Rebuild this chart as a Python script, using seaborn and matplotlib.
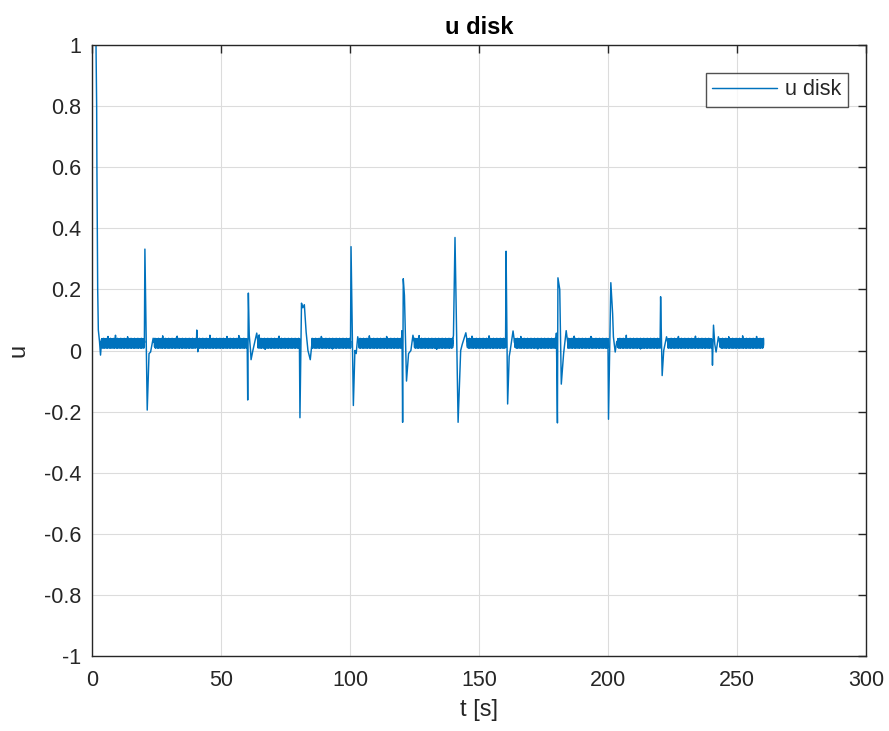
import numpy as np
import pandas as pd
import seaborn as sns
from matplotlib import pyplot as plt

# start-up transient (t [s], u)
start_t = [1.40, 1.55, 1.80, 1.90, 2.05, 2.20, 2.45, 2.90, 3.30, 3.60]
start_u = [1.15, 1.00, 0.80, 0.60, 0.40, 0.20, 0.067, 0.03, -0.015, 0.02]

# hand-read baseline noise sample (one short stretch of the flat part)
noise_u = [0.029, 0.012, 0.036, 0.019, 0.026, 0.010, 0.038, 0.022, 0.015, 0.033,
           0.017, 0.039, 0.024, 0.009, 0.031, 0.020, 0.037, 0.013, 0.028, 0.011,
           0.035, 0.018, 0.025, 0.034, 0.008, 0.030, 0.021, 0.038, 0.016, 0.027,
           0.012, 0.032, 0.023, 0.010, 0.036, 0.019, 0.040, 0.014, 0.029, 0.009,
           0.033, 0.024, 0.017, 0.037, 0.011, 0.026, 0.031, 0.008, 0.034, 0.020,
           0.039, 0.015, 0.028]
noise_dt = 0.025
baseline_end = 260.3

# isolated glitches sticking out of the noise band
glitch_t = [6.2, 9.1, 13.8, 27.4, 33.0, 45.7, 52.3, 56.9, 64.8, 67.1, 72.5, 88.9,
            93.2, 107.5, 114.2, 126.8, 133.6, 147.3, 153.9, 166.2, 172.8, 186.9,
            193.4, 207.1, 212.6, 227.3, 233.9, 246.8, 252.2, 257.6]
glitch_u = [0.046, 0.050, 0.045, 0.048, 0.047, 0.050, 0.046, 0.049, 0.051, 0.004,
            0.047, 0.046, 0.005, 0.048, 0.046, 0.049, 0.004, 0.047, 0.048, 0.046,
            0.005, 0.047, 0.046, 0.050, 0.005, 0.046, 0.047, 0.045, 0.048, 0.046]

# disturbance events: start time and shape as (dt, u) pairs
spike_t = [20.5, 40.6, 60.35, 80.6, 100.4, 120.4, 140.7, 160.5, 180.4, 200.2, 220.4, 240.5]
spike_shapes = [
    [(-0.2, 0.025), (0.0, 0.332), (0.9, -0.195), (1.6, -0.01), (2.2, -0.005), (3.2, 0.04), (3.7, 0.025)],
    [(-0.1, 0.025), (0.0, 0.067), (0.4, -0.004), (0.7, 0.025)],
    [(-0.2, 0.025), (0.0, -0.162), (0.25, 0.188), (0.6, 0.05), (1.1, 0.0), (1.3, -0.03), (2.0, 0.0), (3.5, 0.057), (4.0, 0.025)],
    [(-0.2, 0.02), (0.0, -0.22), (0.6, 0.155), (1.1, 0.14), (1.7, 0.15), (2.4, 0.06), (3.1, 0.0), (4.0, -0.03), (4.6, 0.02)],
    [(-0.2, 0.025), (0.0, 0.34), (0.9, -0.18), (1.5, 0.0), (2.0, -0.01), (2.6, 0.045), (3.1, 0.02)],
    [(-0.5, 0.025), (-0.25, 0.065), (0.0, -0.235), (0.25, 0.235), (0.7, 0.18), (1.5, -0.10), (2.3, -0.01), (3.2, 0.0), (4.0, 0.05), (4.6, 0.025)],
    [(-0.9, 0.03), (-0.6, 0.05), (0.0, 0.37), (1.2, -0.235), (2.2, 0.0), (2.8, 0.02), (4.2, 0.058), (4.8, 0.025)],
    [(-0.2, 0.025), (0.0, 0.325), (0.6, -0.175), (1.2, -0.02), (1.6, 0.0), (2.7, 0.064), (3.3, 0.025)],
    [(-0.6, 0.03), (-0.4, 0.057), (0.0, -0.237), (0.2, 0.238), (0.9, 0.2), (1.5, -0.11), (2.4, -0.01), (3.4, 0.065), (4.0, 0.025)],
    [(-0.2, 0.025), (0.0, -0.225), (0.9, 0.222), (1.6, 0.12), (1.9, 0.045), (2.6, -0.005), (3.2, 0.03), (3.6, 0.02)],
    [(-0.2, 0.025), (0.0, 0.176), (0.6, -0.082), (1.2, 0.0), (2.3, 0.045), (2.8, 0.025)],
    [(-0.2, 0.025), (0.0, -0.048), (0.4, 0.083), (0.9, 0.02), (1.4, -0.005), (2.3, 0.045), (2.8, 0.025)],
]

x_ticks = [0, 50, 100, 150, 200, 250, 300]
y_ticks = [-1, -0.8, -0.6, -0.4, -0.2, 0, 0.2, 0.4, 0.6, 0.8, 1]
y_tick_labels = ["-1", "-0.8", "-0.6", "-0.4", "-0.2", "0", "0.2", "0.4", "0.6", "0.8", "1"]
series_name = "u disk"


def build_signal():
    base_t = np.arange(start_t[-1] + noise_dt, baseline_end, noise_dt)
    base_u = np.resize(noise_u, len(base_t))
    keep = np.ones(len(base_t), dtype=bool)
    ev_t, ev_u = [], []
    for t0, shape in zip(spike_t, spike_shapes):
        lo, hi = t0 + shape[0][0], t0 + shape[-1][0]
        keep &= ~((base_t >= lo) & (base_t <= hi))
        ev_t += [t0 + d for d, _ in shape]
        ev_u += [u for _, u in shape]
    t = np.concatenate([start_t, base_t[keep], ev_t, glitch_t])
    u = np.concatenate([start_u, base_u[keep], ev_u, glitch_u])
    order = np.argsort(t, kind="stable")
    return pd.DataFrame({"t": t[order], "u": u[order]})


df = build_signal()

sns.set_style("white")
plt.rcParams["font.family"] = ["Liberation Sans", "DejaVu Sans"]
plt.rcParams["path.simplify"] = False

fig = plt.figure(figsize=(8.89, 7.31), dpi=100)
ax = fig.add_axes([0.1035, 0.1026, 0.8706, 0.8358])

sns.lineplot(data=df, x="t", y="u", ax=ax, color="#0072BD", linewidth=1.05,
             estimator=None, sort=False, label=series_name)

ax.set_xlim(0, 300)
ax.set_ylim(-1, 1)
ax.set_xticks(x_ticks)
ax.set_yticks(y_ticks)
ax.set_yticklabels(y_tick_labels)
ax.grid(True, color="#dcdcdc", linewidth=0.8)
ax.set_axisbelow(True)
for s in ax.spines.values():
    s.set_color("#262626")
    s.set_linewidth(1.0)
ax.tick_params(direction="in", length=6, width=1.0, colors="#262626",
               labelsize=15.5, top=True, right=True, pad=8)
ax.tick_params(axis="x", pad=10)

ax.set_xlabel("t [s]", fontsize=17, color="#262626", labelpad=6)
ax.set_ylabel("u", fontsize=17, color="#262626", labelpad=10)
ax.set_title("u disk", fontsize=17, fontweight="bold", color="#000000", pad=8)

leg = ax.legend(loc="upper right", bbox_to_anchor=(0.9767, 0.9542),
                borderaxespad=0, fontsize=15.5, frameon=True, fancybox=False,
                handlelength=3.0, handletextpad=0.4, borderpad=0.3)
leg.get_frame().set_edgecolor("#262626")
leg.get_frame().set_linewidth(1.0)

fig.savefig("out.png", dpi=100)
